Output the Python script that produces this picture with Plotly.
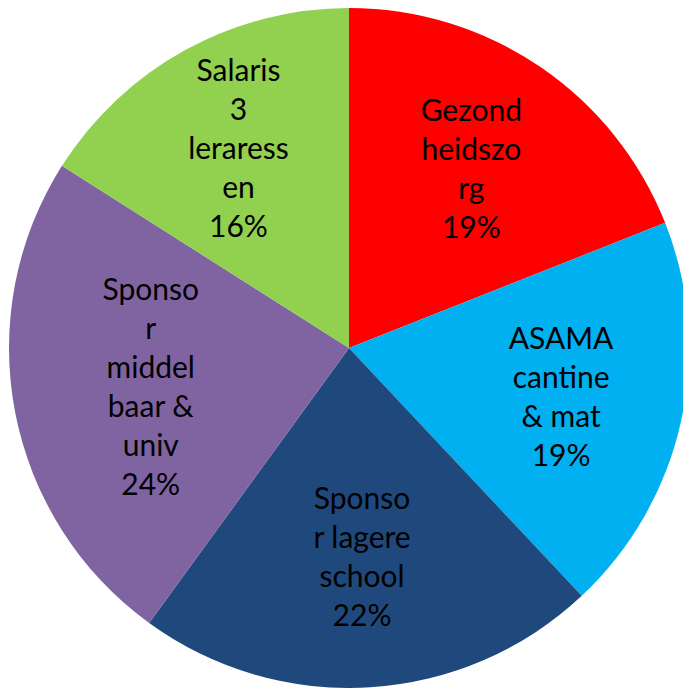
import plotly.graph_objects as go

labels = ["Gezondheidszorg", "ASAMA cantine & mat", "Sponsor lagere school",
          "Sponsor middelbaar & univ", "Salaris 3 leraressen"]
wrapped = ["Gezond<br>heidszo<br>rg", "ASAMA<br>cantine<br>& mat", "Sponso<br>r lagere<br>school",
           "Sponso<br>r<br>middel<br>baar &<br>univ", "Salaris<br>3<br>leraress<br>en"]
values = [19, 19, 22, 24, 16]
colors = ["#FF0000", "#00B0F0", "#1F497D", "#8064A2", "#92D050"]

fig = go.Figure(go.Pie(
    labels=labels,
    values=values,
    customdata=wrapped,
    sort=False,
    direction="clockwise",
    rotation=0,
    marker=dict(colors=colors, line=dict(width=0)),
    texttemplate="%{customdata}<br>%{percent:.0%}",
    textposition="inside",
    insidetextorientation="horizontal",
    textfont=dict(family="Lato", size=30, color="black"),
    showlegend=False,
    hoverinfo="label+percent",
))
fig.update_layout(
    width=683, height=680,
    margin=dict(l=0, r=1, t=0, b=0),
    paper_bgcolor="white",
)
fig.write_html("out.html")
